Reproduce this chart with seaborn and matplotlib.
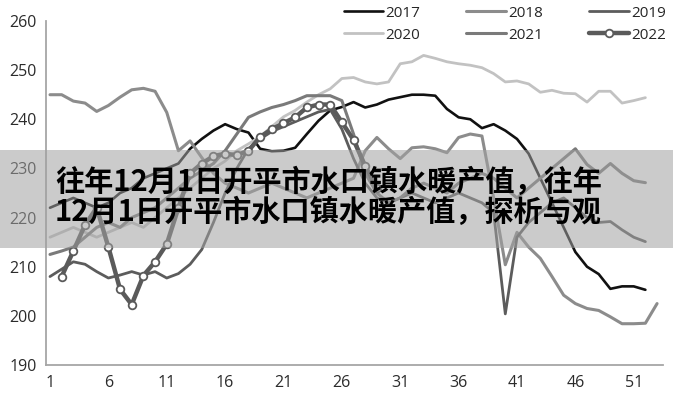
import numpy as np
import pandas as pd
import seaborn as sns
import matplotlib.pyplot as plt
from matplotlib.patches import Rectangle

# weekly values
y2017 = [222, 223, 224, 223, 222, 223, 225, 226, 228, 229, 230, 231, 234, 236, 237.7, 239, 238, 237.3,
         234, 233.5, 233.6, 234.2, 237, 239.7, 241.8, 242.5, 243.5, 242.4, 243, 244, 244.5, 245, 245,
         244.8, 242.1, 240.4, 240, 238.2, 239, 237.7, 236, 233, 228, 223, 218, 213, 210, 208.5, 205.5,
         206, 206, 205.3]
y2018 = [245, 245, 243.7, 243.3, 241.6, 242.8, 244.5, 246, 246.3, 245.7, 241.4, 233.6, 235.6, 232.2,
         229, 227, 226, 225, 226, 227, 226, 225, 224, 225, 226, 227, 228, 233.6, 236.3, 234, 232,
         234.2, 234.4, 234, 233.2, 236.3, 237, 236.6, 224, 210.4, 217, 214, 211.7, 208, 204.2, 202.5,
         201.5, 201.1, 199.8, 198.4, 198.4, 198.5, 202.5]
y2019 = [208, 209.5, 211, 210.5, 209, 207.7, 208.3, 209, 208.3, 209, 207.7, 208.6, 210.5, 213.5, 219,
         225, 230, 234, 236, 237.5, 238.5, 239.5, 240.5, 241.5, 242, 238, 232, 227, 224, 223, 224, 225,
         224, 223, 224, 225, 224, 223, 221, 200.4, 216, 219, 221, 223, 224, 222, 220, 219, 219.2, 217.5,
         216, 215.1]
y2020 = [216, 217, 218, 217, 216, 217, 218, 219, 218, 220, 222, 224, 226, 228, 230, 231.5, 233.6, 235,
         236.5, 238.5, 240.5, 241.8, 243.5, 245, 246.2, 248.3, 248.5, 247.6, 247.2, 247.6, 251.3, 251.7,
         253, 252.4, 251.7, 251.3, 251, 250.5, 249.3, 247.6, 247.8, 247.2, 245.5, 245.9, 245.3, 245.2,
         243.5, 245.7, 245.7, 243.3, 243.8, 244.4]
y2021 = [212.5, 213.2, 214, 216, 218, 219, 218, 220, 221, 222, 224, 226, 228, 229.5, 231, 233.6, 237,
         240.4, 241.5, 242.4, 243, 243.8, 244.8, 244.8, 244.8, 243.8, 237, 229, 225, 223, 224, 226, 227,
         226, 225, 227, 228, 229, 228, 226, 224, 226, 228, 230, 232, 234, 230.8, 229, 231, 229, 227.5,
         227.1]
y2022 = [208, 213.2, 218.5, 222, 214, 205.4, 202.3, 208.2, 211, 214.6, 222, 229, 231, 232.5, 233,
         232.7, 233.6, 236.4, 238, 239.2, 240.4, 242.4, 243, 243, 239.4, 235.8, 230.5, 226]
start2022 = 2

series = [
    ("2017", y2017, "#111111", 1.9),
    ("2018", y2018, "#8c8c8c", 2.2),
    ("2019", y2019, "#5c5c5c", 2.0),
    ("2020", y2020, "#c2c2c2", 2.0),
    ("2021", y2021, "#7a7a7a", 2.2),
]

sns.set_style("white")
plt.rcParams["font.family"] = ["Open Sans", "Noto Sans CJK SC", "DejaVu Sans"]

fig = plt.figure(figsize=(6.73, 4.0), dpi=100)
ax = fig.add_axes([0.0684, 0.0875, 0.9166, 0.86])

for name, vals, col, lw in series:
    df = pd.DataFrame({"week": np.arange(1, len(vals) + 1), "value": vals})
    sns.lineplot(data=df, x="week", y="value", ax=ax, color=col, lw=lw, label=name)

df22 = pd.DataFrame({"week": np.arange(start2022, start2022 + len(y2022)), "value": y2022})
sns.lineplot(data=df22, x="week", y="value", ax=ax, color="#5a5a5a", lw=3.2, label="2022",
             marker="o", markersize=5.5, markerfacecolor="white", markeredgecolor="#5a5a5a",
             markeredgewidth=1.3)

ax.set_xlim(0.66, 53.5)
ax.set_ylim(190, 260)
ax.set_xticks(range(1, 52, 5))
ax.set_yticks(range(190, 261, 10))
ax.set_xlabel("")
ax.set_ylabel("")
ax.tick_params(axis="both", length=0, labelsize=11.5, colors="#2b2b2b")
ax.tick_params(axis="y", pad=6.5)
ax.tick_params(axis="x", pad=7)
for s in ["top", "right"]:
    ax.spines[s].set_visible(False)
for s in ["left", "bottom"]:
    ax.spines[s].set_color("#a6a6a6")
    ax.spines[s].set_linewidth(1.3)

handles, labels = ax.get_legend_handles_labels()
ax.get_legend().remove()
order = [0, 3, 1, 4, 2, 5]
fig.legend([handles[i] for i in order], [labels[i] for i in order], loc="upper right",
           bbox_to_anchor=(1.01, 1.02), ncol=3, frameon=False, fontsize=11,
           handlelength=2.6, columnspacing=3.0, handletextpad=0.15, labelspacing=0.45)

# grey banner with title across the middle
fig.patches.append(Rectangle((0, 0.38), 1, 0.245, transform=fig.transFigure,
                             facecolor=(0.63, 0.63, 0.63), alpha=0.55, edgecolor="none", zorder=5))
cjk = ["Noto Sans CJK SC", "DejaVu Sans"]
fig.text(55 / 673, 1 - 182 / 400, "往年12月1日开平市水口镇水暖产值，往年", fontsize=21,
         weight="black", va="center", ha="left", family=cjk, color="black", zorder=6)
fig.text(55 / 673, 1 - 212 / 400, "12月1日开平市水口镇水暖产值，探析与观", fontsize=21,
         weight="black", va="center", ha="left", family=cjk, color="black", zorder=6)

fig.savefig("out.png", dpi=100)
